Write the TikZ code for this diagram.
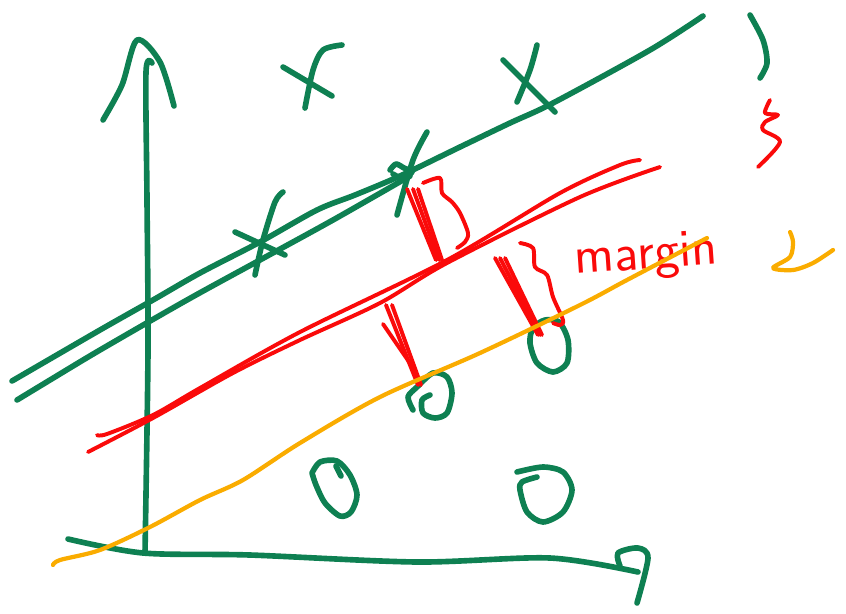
\documentclass[tikz,border=0pt]{standalone}
\usepackage{tikz}
\usepackage{amsmath}

\definecolor{penGreen}{RGB}{14,128,82}
\definecolor{penRed}{RGB}{250,10,10}
\definecolor{penOrange}{RGB}{250,172,0}

\begin{document}
\begin{tikzpicture}[x=0.025cm, y=-0.025cm,
    gstroke/.style={penGreen, line width=4pt, line cap=round, line join=round},
    rstroke/.style={penRed, line width=2.8pt, line cap=round, line join=round},
    ostroke/.style={penOrange, line width=3pt, line cap=round, line join=round}]
            \useasboundingbox (0,0) rectangle (846,613);
            % axes
            \draw[gstroke] plot[smooth] coordinates {(152,63) (146,72) (147,200) (148,350) (145,553)};
            \draw[gstroke] plot[smooth] coordinates {(103,120) (122,85) (137,40) (160,62) (174,106)};
            \draw[gstroke] plot[smooth] coordinates {(68,539) (143,553) (250,555) (417,562) (550,558) (638,572)};
            \draw[gstroke] plot[smooth] coordinates {(620,566) (618,553) (638,548) (648,558) (637,603)};
            % upper margin (two strokes)
            \draw[gstroke] plot[smooth] coordinates {(12,381) (100,330) (153,300) (200,273) (260,242) (317,210) (355,195) (400,176) (460,147) (510,123) (553,103) (650,50) (703,16)};
            \draw[gstroke] plot[smooth] coordinates {(17,400) (50,380) (100,350) (187,300) (260,260) (333,220) (410,176)};
            % crosses
            \draw[gstroke] (235,232) -- (285,255);
            \draw[gstroke] plot[smooth] coordinates {(283,192) (275,202) (263,240) (255,275)};
            \draw[gstroke] (283,67) -- (332,96);
            \draw[gstroke] plot[smooth] coordinates {(342,45) (323,50) (313,70) (305,108)};
            \draw[gstroke] (503,60) -- (555,112);
            \draw[gstroke] plot[smooth] coordinates {(537,45) (530,70) (517,102)};
            \draw[gstroke] plot[smooth] coordinates {(427,132) (413,160) (397,215)};
            \draw[gstroke] plot[smooth] coordinates {(390,170) (396,164) (404,168) (412,172) (402,178) (393,174)};
            % circles
            \draw[gstroke] plot[smooth] coordinates {(413,410) (408,397) (417,387) (433,373) (447,377) (452,393) (447,413) (435,418) (423,413) (422,400) (430,395)};
            \draw[gstroke] plot[smooth cycle] coordinates {(533,328) (545,320) (559,322) (568,340) (567,363) (553,372) (537,363) (530,343)};
            \draw[gstroke] plot[smooth] coordinates {(312,473) (320,462) (337,461) (350,475) (357,495) (351,512) (340,516) (325,503) (316,485) (312,473)};
            \draw[gstroke] (336,466) -- (341,476);
            \draw[gstroke] plot[smooth] coordinates {(517,472) (543,467) (563,472) (572,490) (563,512) (543,522) (527,512) (520,490) (522,482) (537,477)};
            \draw[gstroke] plot[smooth] coordinates {(750,15) (763,40) (767,63) (760,78)};
            % separating line (two strokes)
            \draw[rstroke] plot[smooth] coordinates {(97,435) (107,434) (153,415) (200,388) (300,332) (447,260) (560,193) (620,165) (640,160)};
            \draw[rstroke] plot[smooth] coordinates {(88,452) (153,418) (233,373) (300,340) (380,303) (447,263) (580,197) (660,167)};
            % support vector marks
            \foreach \dx/\ex in {0/0, 6/3, 11/6} {
              \draw[rstroke] (407+\dx,189) -- (436+\ex,260);
            }
            \foreach \dx/\ex in {0/0, 5/2, 10/4} {
              \draw[rstroke] (495+\dx,258) -- (538+\ex,335);
            }
            \foreach \dx/\ex in {0/0, 6/3} {
              \draw[rstroke] (386+\dx,305) -- (418+\ex,385);
            }
            \draw[rstroke] (383,324) -- (416,372);
            % braces
            \draw[rstroke] plot[smooth] coordinates {(423,183) (440,178) (442,193) (452,202) (460,213) (468,233) (465,242) (457,248)};
            \draw[rstroke] plot[smooth] coordinates {(520,243) (533,248) (535,267) (547,275) (553,297) (563,320) (560,325) (553,323)};
            \draw[rstroke] plot[smooth] coordinates {(770,100) (765,113) (778,115) (765,122) (763,130) (780,142) (758,167)};
            \node[penRed, font=\sffamily\fontsize{38}{38}\selectfont, inner sep=0pt, rotate=4] (margin) at (646,257) {margin};
            % lower margin
            \draw[ostroke] plot[smooth] coordinates {(53,565) (60,560) (100,550) (150,527) (200,500) (243,480) (300,443) (380,397) (480,353) (580,305) (627,280) (707,238)};
            \draw[ostroke] plot[smooth] coordinates {(790,232) (793,242) (790,257) (773,268) (793,270) (813,263) (833,250)};
        \end{tikzpicture}
\end{document}
